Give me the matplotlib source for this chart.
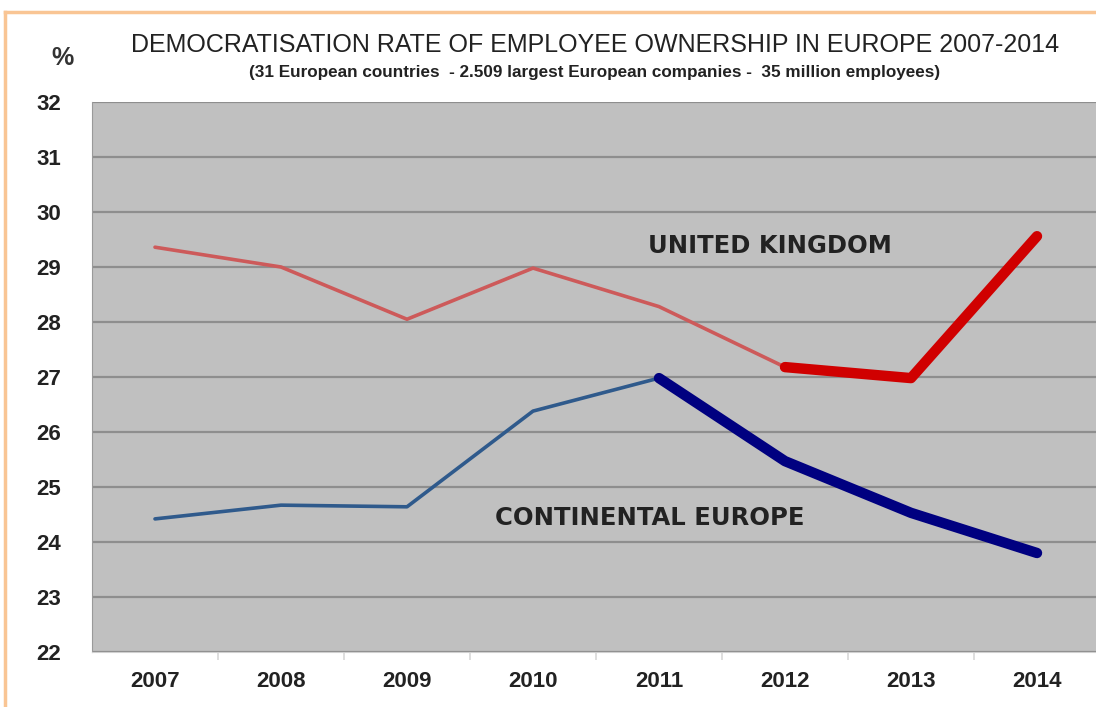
import matplotlib.pyplot as plt
from matplotlib.lines import Line2D
import numpy as np

# data
years = ['2007', '2008', '2009', '2010', '2011', '2012', '2013', '2014']
uk = [29.36, 29.0, 28.05, 28.98, 28.28, 27.18, 26.98, 29.56]
europe = [24.42, 24.67, 24.64, 26.38, 26.98, 25.47, 24.53, 23.8]
uk_break = 5       # thick from 2012
europe_break = 4   # thick from 2011

sans = ['Liberation Sans', 'DejaVu Sans']

fig = plt.figure(figsize=(10.96, 7.07), dpi=100)
fig.patch.set_facecolor('white')
ax = fig.add_axes([92 / 1096, 55 / 707, 1008 / 1096, 550 / 707])
ax.set_facecolor('#c0c0c0')

x = np.arange(len(years))

# thin parts
ax.plot(x[:uk_break + 1], uk[:uk_break + 1], color='#cd5a5a', lw=2.6, solid_capstyle='round', zorder=3)
ax.plot(x[:europe_break + 1], europe[:europe_break + 1], color='#2f5a8c', lw=2.6, solid_capstyle='round', zorder=3)
# thick parts
ax.plot(x[uk_break:], uk[uk_break:], color='#d00000', lw=7.5, solid_capstyle='round',
        solid_joinstyle='round', zorder=4)
ax.plot(x[europe_break:], europe[europe_break:], color='#000080', lw=7.5, solid_capstyle='round',
        solid_joinstyle='round', zorder=4)

ax.set_xlim(-0.5, 7.5)
ax.set_ylim(22, 32)
ax.set_yticks(range(22, 33))
ax.set_xticks(x)
ax.set_xticklabels(years)
ax.set_xticks(x[:-1] + 0.5, minor=True)
ax.tick_params(axis='x', which='major', length=0, pad=14)
ax.tick_params(axis='x', which='minor', length=6, color='#d8d8d8', width=1.2)
ax.tick_params(axis='y', length=0, pad=22)
for lab in ax.get_xticklabels():
    lab.set_fontfamily(sans)
    lab.set_fontweight('bold')
    lab.set_fontsize(16)
    lab.set_color('#222222')
for lab in ax.get_yticklabels():
    lab.set_fontfamily(sans)
    lab.set_fontweight('bold')
    lab.set_fontsize(16)
    lab.set_color('#222222')

ax.grid(axis='y', color='#8e8e8e', lw=1.6)
ax.set_axisbelow(True)
for s in ['top', 'right']:
    ax.spines[s].set_visible(False)
ax.spines['left'].set_color('#9a9a9a')
ax.spines['bottom'].set_color('#d0d0d0')

ax.text(4.88, 29.38, 'UNITED KINGDOM', family='DejaVu Sans', fontweight='bold', fontsize=17.5,
        color='#222222', ha='center', va='center')
ax.text(3.93, 24.44, 'CONTINENTAL EUROPE', family='DejaVu Sans', fontweight='bold', fontsize=17.5,
        color='#222222', ha='center', va='center')

fig.text(595 / 1096, 1 - 45 / 707, 'DEMOCRATISATION RATE OF EMPLOYEE OWNERSHIP IN EUROPE 2007-2014',
         family=sans, fontsize=18, color='#222222', ha='center', va='center')
fig.text(595 / 1096, 1 - 72 / 707,
         '(31 European countries  - 2.509 largest European companies -  35 million employees)',
         family=sans, fontweight='bold', fontsize=12.3, color='#222222', ha='center', va='center')
fig.text(62 / 1096, 1 - 58 / 707, '%', family=sans, fontweight='bold', fontsize=18,
         color='#333333', ha='center', va='center')

# light orange frame at left/top
fig.add_artist(Line2D([5 / 1096, 5 / 1096], [0, 1 - 12 / 707], color='#f9c594', lw=2.5))
fig.add_artist(Line2D([5 / 1096, 1], [1 - 12 / 707, 1 - 12 / 707], color='#f9c594', lw=2.5))

fig.savefig('out.png', dpi=100)
